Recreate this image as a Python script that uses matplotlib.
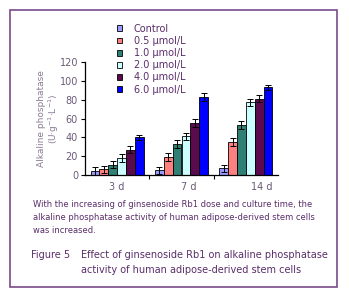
import numpy as np
import matplotlib.pyplot as plt
from matplotlib.patches import Rectangle
from matplotlib.transforms import ScaledTranslation

days = ["3 d", "7 d", "14 d"]
groups = ["Control", "0.5 μmol/L", "1.0 μmol/L", "2.0 μmol/L", "4.0 μmol/L", "6.0 μmol/L"]
control = [4, 5, 7]
dose_05 = [6, 19, 35]
dose_10 = [11, 33, 53]
dose_20 = [18, 41, 77]
dose_40 = [27, 55, 81]
dose_60 = [40, 83, 93]
errors = [[4, 4, 4], [4, 4, 4], [4, 4, 4], [4, 4, 4], [4, 4, 4], [3, 4, 3]]
colors = ["#9999ff", "#ff8080", "#2e7f74", "#ccffff", "#5c0a4e", "#0000ff"]

values = [control, dose_05, dose_10, dose_20, dose_40, dose_60]
txt = "#5a2d6a"
tick_col = "#6b5a78"

fig = plt.figure(figsize=(3.49, 3.0), dpi=100)
fig.patches.append(Rectangle((10 / 349, 1 - 287 / 300), 327 / 349, 277 / 300,
                             transform=fig.transFigure, fill=False,
                             edgecolor="#7b4a8a", linewidth=1.2))

ax = fig.add_axes([85 / 349, 1 - 175 / 300, 193 / 349, 113 / 300])
x = np.arange(len(days))
w = 0.138
for i, (vals, err) in enumerate(zip(values, errors)):
    pos = x + (i - 2.5) * w
    ax.bar(pos, vals, w, color=colors[i], edgecolor="black", linewidth=0.6,
           label=groups[i], yerr=err, error_kw=dict(ecolor="black", elinewidth=0.7,
                                                    capsize=2, capthick=0.7))

ax.set_xlim(-0.5, 2.5)
ax.set_ylim(0, 120)
ax.set_yticks(range(0, 121, 20))
ax.set_xticks(x)
ax.set_xticklabels(days)
ax.set_xticks([0.5, 1.5], minor=True)
ax.tick_params(axis="x", which="major", length=0, pad=5, labelsize=7, labelcolor=tick_col)
ax.tick_params(axis="x", which="minor", length=3, direction="out", width=0.8)
ax.tick_params(axis="y", length=3, direction="out", width=0.8, labelsize=7,
               labelcolor=tick_col, pad=2)
for lab, dx in zip(ax.get_xticklabels(), [0, 7, 16]):
    lab.set_transform(lab.get_transform() + ScaledTranslation(dx / 100, 0, fig.dpi_scale_trans))
for s in ["top", "right"]:
    ax.spines[s].set_visible(False)
for s in ["left", "bottom"]:
    ax.spines[s].set_linewidth(0.9)

ax.set_ylabel("Alkaline phosphatase\n(U·g$^{-1}$·L$^{-1}$)", fontsize=6.5, color="#8a7a96",
              labelpad=-1, linespacing=1.1)

leg = fig.legend(loc="upper left", bbox_to_anchor=(112 / 349, 1 - 19 / 300), frameon=False,
                 fontsize=7, handlelength=0.55, handleheight=0.55, handletextpad=1.2,
                 labelspacing=0.22, borderpad=0)
for t in leg.get_texts():
    t.set_color(txt)

fig.text(33 / 349, 1 - 200 / 300,
         "With the increasing of ginsenoside Rb1 dose and culture time, the\n"
         "alkaline phosphatase activity of human adipose-derived stem cells\n"
         "was increased.", fontsize=6.0, color=txt, va="top", linespacing=1.6)
fig.text(31 / 349, 1 - 255 / 300, "Figure 5", fontsize=7.0, color=txt, va="center")
fig.text(81 / 349, 1 - 255 / 300, "Effect of ginsenoside Rb1 on alkaline phosphatase",
         fontsize=7.0, color=txt, va="center")
fig.text(81 / 349, 1 - 270 / 300, "activity of human adipose-derived stem cells",
         fontsize=7.0, color=txt, va="center")

fig.savefig("out.png", dpi=100)
